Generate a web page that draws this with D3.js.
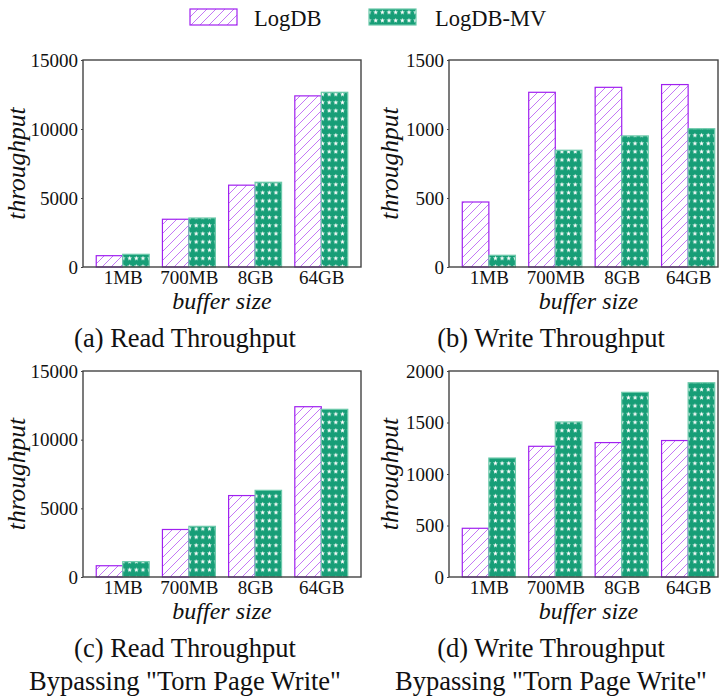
<!DOCTYPE html>
<html>
<head>
<meta charset="utf-8">
<script src="https://cdn.jsdelivr.net/npm/d3@7"></script>
<style>
  html, body { margin: 0; padding: 0; background: #fff; }
  svg { display: block; }
</style>
</head>
<body>
<svg id="chart" width="719" height="697"></svg>
<script>
// ---------------- data ----------------
const categories = ["1MB", "700MB", "8GB", "64GB"];
const seriesNames = ["LogDB", "LogDB-MV"];

const readLogDB      = [820, 3460, 5930, 12400];
const readMV         = [920, 3550, 6140, 12660];
const writeLogDB     = [471, 1266, 1302, 1322];
const writeMV        = [85, 846, 950, 1002];
const readTornLogDB  = [820, 3460, 5930, 12400];
const readTornMV     = [1115, 3690, 6310, 12210];
const writeTornLogDB = [473, 1269, 1305, 1325];
const writeTornMV    = [1155, 1505, 1793, 1886];

const readTicks      = [0, 5000, 10000, 15000];
const writeTicks     = [0, 500, 1000, 1500];
const writeTornTicks = [0, 500, 1000, 1500, 2000];

const captionA = ["(a) Read Throughput"];
const captionB = ["(b) Write Throughput"];
const captionC = ["(c) Read Throughput", "Bypassing \"Torn Page Write\""];
const captionD = ["(d) Write Throughput", "Bypassing \"Torn Page Write\""];

// ---------------- styles ----------------
const purple = "#a020f0";
const purpleHatch = "#b555f2";
const green = "#179e77";
const greenEdge = "#6cc9aa";
const frameColor = "#444";
const serif = "'Liberation Serif', 'Times New Roman', serif";

const svg = d3.select("#chart");
const defs = svg.append("defs");

// hatch pattern "/"
const hs = 9;
const hatch = defs.append("pattern")
  .attr("id", "hatch").attr("patternUnits", "userSpaceOnUse")
  .attr("width", hs).attr("height", hs);
hatch.append("rect").attr("width", hs).attr("height", hs).attr("fill", "#fff");
hatch.append("path")
  .attr("d", `M0,${hs} L${hs},0 M${-hs/2},${hs/2} L${hs/2},${-hs/2} M${hs/2},${hs*1.5} L${hs*1.5},${hs/2}`)
  .attr("stroke", purpleHatch).attr("stroke-width", 0.8).attr("fill", "none");

// star pattern
const sw = 6.65, sh = 8.2;
const stars = defs.append("pattern")
  .attr("id", "stars").attr("patternUnits", "userSpaceOnUse")
  .attr("width", sw).attr("height", sh);
stars.append("rect").attr("width", sw).attr("height", sh).attr("fill", green);
function starPath(cx, cy, R, r) {
  let p = "";
  for (let i = 0; i < 10; i++) {
    const a = -Math.PI / 2 + i * Math.PI / 5;
    const rad = i % 2 === 0 ? R : r;
    p += (i === 0 ? "M" : "L") + (cx + rad * Math.cos(a)).toFixed(2) + "," + (cy + rad * Math.sin(a)).toFixed(2);
  }
  return p + "Z";
}
stars.append("path").attr("d", starPath(sw / 2, sh / 2, 2.6, 1.1)).attr("fill", "#fff");

// ---------------- panels ----------------
const panels = [
  { a: readLogDB, b: readMV, ticks: readTicks, max: 15000, left: 83, right: 361, xr: 361, top: 60, bottom: 267, ylx: 25, cap: captionA, capX: 185, capY: 347 },
  { a: writeLogDB, b: writeMV, ticks: writeTicks, max: 1500, left: 449, right: 718, xr: 728, top: 60, bottom: 267, ylx: 398, cap: captionB, capX: 551, capY: 347 },
  { a: readTornLogDB, b: readTornMV, ticks: readTicks, max: 15000, left: 83, right: 361, xr: 361, top: 371, bottom: 577, ylx: 25, cap: captionC, capX: 185, capY: 657 },
  { a: writeTornLogDB, b: writeTornMV, ticks: writeTornTicks, max: 2000, left: 449, right: 718, xr: 728, top: 371, bottom: 577, ylx: 398, cap: captionD, capX: 551, capY: 657 }
];

const barW = 0.4;

panels.forEach(p => {
  const g = svg.append("g");
  const x = d3.scaleLinear().domain([-0.6, 3.6]).range([p.left, p.xr]);
  const y = d3.scaleLinear().domain([0, p.max]).range([p.bottom, p.top]);
  const bw = x(barW) - x(0);

  // bars LogDB
  g.selectAll("rect.a").data(p.a).enter().append("rect")
    .attr("x", (d, i) => x(i - barW))
    .attr("y", d => y(d))
    .attr("width", bw)
    .attr("height", d => y(0) - y(d))
    .attr("fill", "url(#hatch)")
    .attr("stroke", purple).attr("stroke-width", 1.2);
  // bars MV
  g.selectAll("rect.b").data(p.b).enter().append("rect")
    .attr("x", (d, i) => x(i))
    .attr("y", d => y(d))
    .attr("width", bw)
    .attr("height", d => y(0) - y(d))
    .attr("fill", "url(#stars)")
    .attr("stroke", greenEdge).attr("stroke-width", 1.2);

  // y axis
  const yAxis = d3.axisLeft(y).tickValues(p.ticks).tickSize(2).tickPadding(3).tickFormat(d3.format("d"));
  const ya = g.append("g").attr("transform", `translate(${p.left},0)`).call(yAxis);
  ya.attr("font-family", serif).attr("font-size", 19);
  ya.select(".domain").remove();
  ya.selectAll("line").attr("stroke", frameColor);
  ya.selectAll("text").attr("font-family", serif).attr("font-size", "19px").attr("fill", "#111");

  // x axis
  const xAxis = d3.axisBottom(x).tickValues(d3.range(categories.length)).tickSize(0).tickPadding(4)
    .tickFormat(i => categories[i]);
  const xa = g.append("g").attr("transform", `translate(0,${p.bottom})`).call(xAxis);
  xa.attr("font-family", serif).attr("font-size", 19);
  xa.select(".domain").remove();
  xa.selectAll("text").attr("font-family", serif).attr("font-size", "19px").attr("fill", "#111");

  // frame
  g.append("rect")
    .attr("x", p.left).attr("y", p.top)
    .attr("width", p.right - p.left).attr("height", p.bottom - p.top)
    .attr("fill", "none").attr("stroke", frameColor).attr("stroke-width", 1.4);

  // axis labels
  const cx = (x(-0.6) + x(3.6)) / 2;
  g.append("text").attr("x", cx).attr("y", p.bottom + 42)
    .attr("text-anchor", "middle").attr("font-family", serif).attr("font-style", "italic")
    .attr("font-size", "24px").attr("fill", "#111").text("buffer size");
  g.append("text")
    .attr("transform", `translate(${p.ylx},${(p.top + p.bottom) / 2}) rotate(-90)`)
    .attr("text-anchor", "middle").attr("font-family", serif).attr("font-style", "italic")
    .attr("font-size", "25.5px").attr("fill", "#111").text("throughput");

  // caption
  p.cap.forEach((t, k) => {
    svg.append("text").attr("x", p.capX).attr("y", p.capY + k * 33)
      .attr("text-anchor", "middle").attr("font-family", serif)
      .attr("font-size", "26.5px").attr("fill", "#111").text(t);
  });
});

// ---------------- legend ----------------
const legend = svg.append("g");
const legendItems = [
  { name: seriesNames[0], fill: "url(#hatch)", stroke: purple, x: 190, tx: 254 },
  { name: seriesNames[1], fill: "url(#stars)", stroke: greenEdge, x: 369, tx: 435 }
];
legendItems.forEach(it => {
  legend.append("rect").attr("x", it.x).attr("y", 9).attr("width", 47).attr("height", 16)
    .attr("fill", it.fill).attr("stroke", it.stroke).attr("stroke-width", 1.2);
  legend.append("text").attr("x", it.tx).attr("y", 26)
    .attr("font-family", serif).attr("font-size", "22.5px").attr("fill", "#111").text(it.name);
});
</script>
</body>
</html>
